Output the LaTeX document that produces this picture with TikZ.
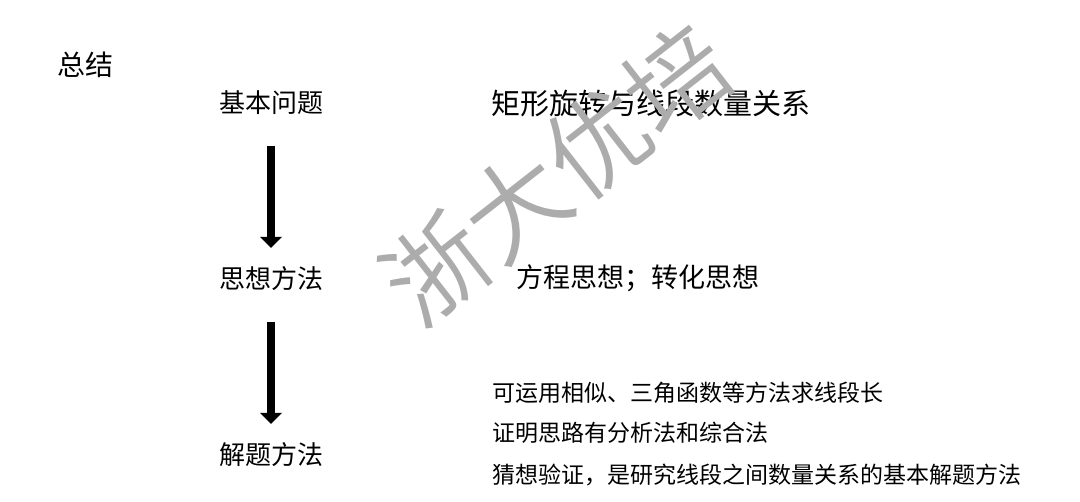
\documentclass[tikz,border=0pt]{standalone}
\usepackage{fontspec}
\setmainfont{Noto Sans CJK SC}
\IfFontExistsTF{Noto Sans CJK SC DemiLight}{\newfontfamily\wmfont{Noto Sans CJK SC DemiLight}}{\IfFontExistsTF{Noto Sans CJK SC Light}{\newfontfamily\wmfont{Noto Sans CJK SC Light}}{\newfontfamily\wmfont{Noto Sans CJK SC}}}
\usetikzlibrary{arrows.meta}
\definecolor{wmgray}{RGB}{172,172,172}
\tikzset{
  lbl/.style={inner sep=0pt, font=\fontsize{26}{30}\selectfont},
  rtxt/.style={inner sep=0pt, anchor=west, font=\fontsize{27}{32}\selectfont},
  small/.style={inner sep=0pt, anchor=west, font=\fontsize{23}{27}\selectfont},
  bigarrow/.style={line width=8pt, -{Triangle[width=21pt,length=11pt]}},
  wm/.style={inner sep=0pt, text=wmgray, rotate=38, font=\wmfont\fontsize{102}{112}\selectfont}
}
\begin{document}
\begin{tikzpicture}[x=1pt,y=-1pt]
\fill[white] (0,0) rectangle (1080,502);
\useasboundingbox (0,0) rectangle (1080,502);
\node[lbl, anchor=west, font=\fontsize{28}{32}\selectfont] (zj) at (57,65) {总结};
\node[lbl] (jb) at (271,103) {基本问题};
\node[lbl] (sx) at (271,279) {思想方法};
\node[lbl] (jt) at (271,455) {解题方法};
\node[rtxt, font=\fontsize{29}{32}\selectfont] (r1) at (491,103) {矩形旋转与线段数量关系};
\node[rtxt] (r2) at (516,278) {方程思想；转化思想};
\node[small] (s1) at (492,393) {可运用相似、三角函数等方法求线段长};
\node[small] (s2) at (492,433) {证明思路有分析法和综合法};
\node[small] (s3) at (492,475) {猜想验证，是研究线段之间数量关系的基本解题方法};
\draw[bigarrow, shorten <=43pt, shorten >=31pt] (jb.center) -- (sx.center);
\draw[bigarrow, shorten <=43pt, shorten >=31pt] (sx.center) -- (jt.center);
\node[wm] (wmk) at (556,174) {浙大优培};
\end{tikzpicture}
\end{document}
